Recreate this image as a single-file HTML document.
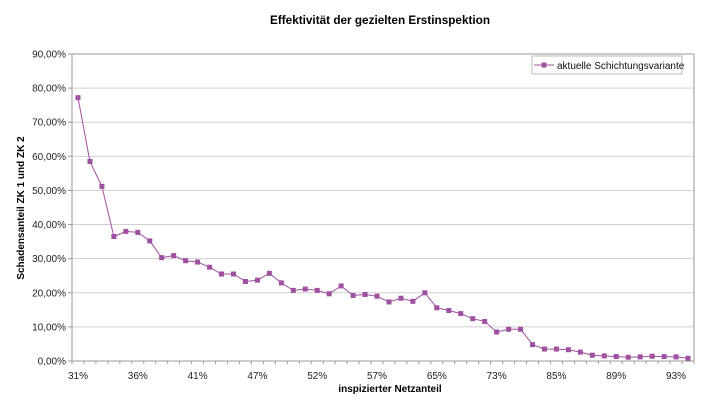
<!DOCTYPE html>
<html><head><meta charset="utf-8"><style>
html,body{margin:0;padding:0;background:#fff;}
svg{display:block;font-family:"Liberation Sans",Arial,sans-serif;}
</style></head><body>
<svg id="s" width="720" height="415" viewBox="0 0 720 415" xmlns="http://www.w3.org/2000/svg">
<rect width="720" height="415" fill="#fff"/>
<text x="380" y="24" font-size="12" font-weight="bold" text-anchor="middle" textLength="220" lengthAdjust="spacingAndGlyphs">Effektivität der gezielten Erstinspektion</text>
<g id="grid"></g>
<rect x="72" y="54" width="622" height="307" fill="none" stroke="#999" stroke-width="1"/>
<g id="ylab" font-size="10" fill="#222" text-anchor="end"></g>
<g id="xlab" font-size="10" fill="#222" text-anchor="middle"></g>
<text transform="translate(24,208) rotate(-90)" font-size="10" font-weight="bold" text-anchor="middle">Schadensanteil ZK 1 und ZK 2</text>
<text x="390" y="392" font-size="10" font-weight="bold" text-anchor="middle">inspizierter Netzanteil</text>
<polyline id="line" fill="none" stroke="#a050a0" stroke-width="1"/>
<g id="pts" fill="#a050a0"></g>
<rect x="532" y="56" width="150" height="18" fill="#fff" stroke="#bbb" stroke-width="1"/>
<line x1="534" y1="65" x2="554" y2="65" stroke="#a050a0"/>
<rect x="541.5" y="62.5" width="5" height="5" fill="#a050a0"/>
<text x="557" y="69" font-size="10" fill="#111">aktuelle Schichtungsvariante</text>
</svg>
<script>
var v=[77.2,58.5,51.2,36.5,38,37.7,35.2,30.3,30.9,29.4,29,27.5,25.5,25.5,23.3,23.7,25.7,22.9,20.7,21.1,20.7,19.7,22,19.2,19.5,19.0,17.3,18.4,17.5,20,15.6,14.8,13.9,12.4,11.6,8.5,9.3,9.3,4.8,3.5,3.5,3.3,2.6,1.7,1.5,1.3,1.1,1.2,1.4,1.3,1.2,0.8];
var NS="http://www.w3.org/2000/svg";
function el(t,a,p){var e=document.createElementNS(NS,t);for(var k in a)e.setAttribute(k,a[k]);document.getElementById(p).appendChild(e);return e;}
var L=72,R=694,T=54,B=361,H=B-T,step=(R-L)/52;
for(var i=0;i<=9;i++){var y=B-i*H/9;
 if(i>0&&i<9)el('line',{x1:L,x2:R,y1:y,y2:y,stroke:'#d0d0d0'},'grid');
 el('line',{x1:L-4,x2:L,y1:y,y2:y,stroke:'#999'},'grid');
 var t=el('text',{x:L-6,y:y+3.5},'ylab');t.textContent=(i*10)+',00%';}
var xl=['31%','36%','41%','47%','52%','57%','65%','73%','85%','89%','93%'];
for(var j=0;j<xl.length;j++){var x=L+step*(j*5+0.5);
 var t=el('text',{x:x,y:379},'xlab');t.textContent=xl[j];}
for(var k=0;k<=52;k++){var x=L+k*step;el('line',{x1:x,x2:x,y1:B,y2:B+3,stroke:'#999'},'grid');}
var p=[];
for(var i=0;i<v.length;i++){var x=L+step*(i+0.5),y=B-v[i]/90*H;p.push(x.toFixed(1)+','+y.toFixed(1));
 el('rect',{x:x-2.5,y:y-2.5,width:5,height:5},'pts');}
document.getElementById('line').setAttribute('points',p.join(' '));
</script>
</body></html>
